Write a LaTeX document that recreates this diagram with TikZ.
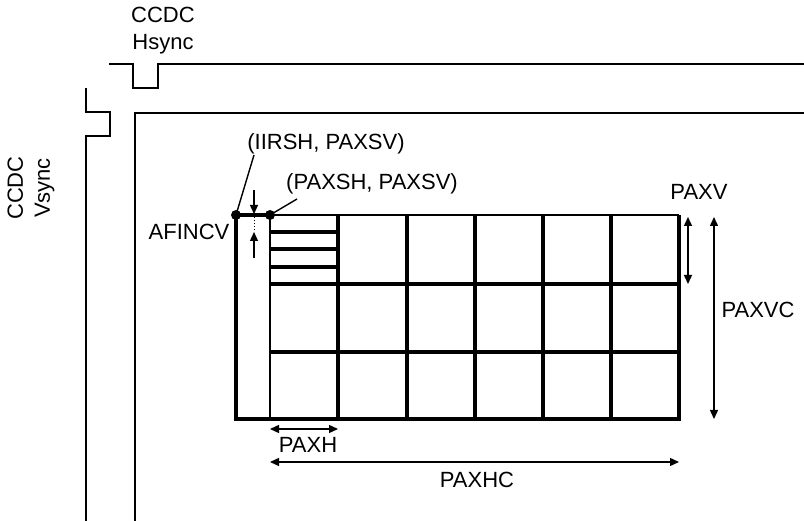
\documentclass[tikz,border=0pt]{standalone}
\usepackage{fontspec}
\setmainfont{Liberation Sans}
\usetikzlibrary{arrows.meta}
\begin{document}
\begin{tikzpicture}[x=1pt,y=-1pt,
  lbl/.style={inner sep=0pt,font=\fontsize{22}{27}\selectfont},
  sig/.style={line width=1.8pt},
  gridthick/.style={line width=3.3pt},
  gridthin/.style={line width=2pt},
  dim/.style={line width=1.4pt,{Triangle[length=9pt,width=8pt]}-{Triangle[length=9pt,width=8pt]}},
  onearrow/.style={line width=1.4pt,-{Triangle[length=9pt,width=8pt]}},
  dotm/.style={circle,fill=black,inner sep=0pt,minimum size=10pt},
  leader/.style={line width=1.4pt}]
\useasboundingbox (0,0) rectangle (804,521);
% Hsync waveform
\draw[sig] (109,64) -- (133,64) -- (133,88) -- (158,88) -- (158,64) -- (804,64);
\node[lbl,align=center] (hs) at (163,31) {CCDC\\Hsync};
% Vsync waveform
\draw[sig] (86,88) -- (86,112) -- (110,112) -- (110,136) -- (86,136) -- (86,521);
\node[lbl,align=center,rotate=90] (vs) at (31,188) {CCDC\\Vsync};
% frame
\draw[sig] (804,113) -- (135,113) -- (135,521);
% AFINCV column
\draw[gridthick] (270,215) -- (236,215) -- (236,419) -- (270,419);
% grid
\draw[gridthin] (270,215) -- (679,215);
\draw[gridthin] (270,215) -- (270,419);
\draw[gridthick] (679,215) -- (679,419) -- (270,419);
\foreach \x in {338,407,475,543,611} \draw[gridthick] (\x,215) -- (\x,419);
\draw[gridthick] (270,284) -- (679,284);
\draw[gridthick] (270,352) -- (679,352);
\foreach \y in {232,249,267} \draw[gridthick] (270,\y) -- (338,\y);
% dots
\node[dotm] (d1) at (236,215) {};
\node[dotm] (d2) at (270,215) {};
% labels and leaders
\node[lbl] (iirsh) at (326,144) {(IIRSH, PAXSV)};
\node[lbl] (paxsh) at (372,184) {(PAXSH, PAXSV)};
\coordinate (l1) at (254,155);
\coordinate (l2) at (297,199);
\draw[leader] (d1.center) -- (l1);
\draw[leader] (d2.center) -- (l2);
\node[lbl] (afincv) at (189,232) {AFINCV};
% AFINCV small arrows
\coordinate (a1) at (254,190);
\coordinate (a2) at (254,214);
\coordinate (a3) at (254,232);
\coordinate (a4) at (254,258);
\draw[onearrow] (a1) -- (a2);
\draw[onearrow] (a4) -- (a3);
\draw[line width=1pt,dotted] (a2) -- (a3);
% PAXV
\coordinate (v1) at (688,217);
\coordinate (v2) at (688,284);
\draw[dim] (v1) -- (v2);
\node[lbl] (paxv) at (699,192) {PAXV};
% PAXVC
\coordinate (vc1) at (714,217);
\coordinate (vc2) at (714,419);
\draw[dim] (vc1) -- (vc2);
\node[lbl] (paxvc) at (758,310) {PAXVC};
% PAXH
\coordinate (h1) at (270,429);
\coordinate (h2) at (338,429);
\draw[dim] (h1) -- (h2);
\node[lbl] (paxh) at (308,445) {PAXH};
% PAXHC
\coordinate (hc1) at (270,462);
\coordinate (hc2) at (679,462);
\draw[dim] (hc1) -- (hc2);
\node[lbl] (paxhc) at (477,480) {PAXHC};
\end{tikzpicture}
\end{document}
